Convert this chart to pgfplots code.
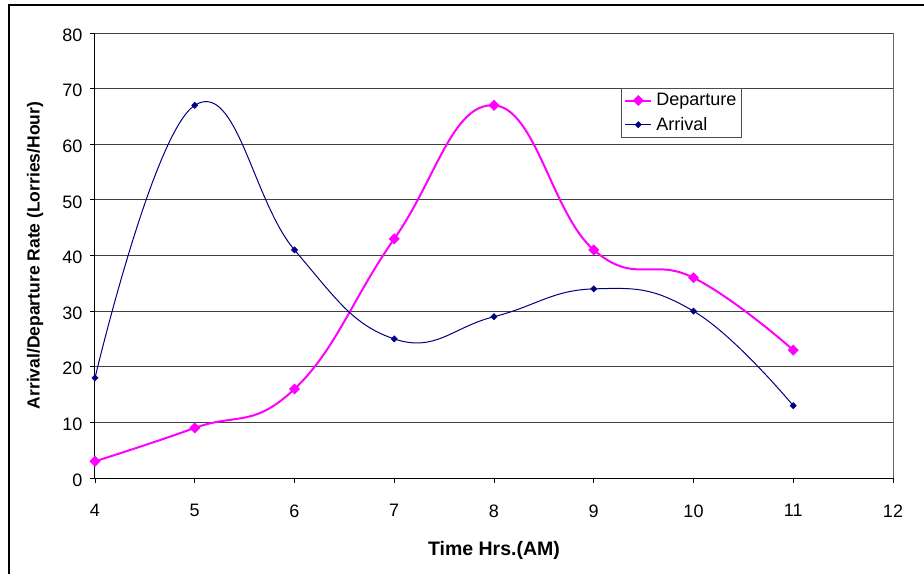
\documentclass[border=0pt]{standalone}
\usepackage{fontspec}
\setmainfont{Liberation Sans}
\usepackage{pgfplots}
\pgfplotsset{compat=1.18}
\definecolor{mag}{RGB}{255,0,255}
\definecolor{nav}{RGB}{0,0,128}
\begin{document}
\begin{tikzpicture}[x=1pt,y=1pt]
\useasboundingbox (-95,-96) rectangle (829,478);
\draw[line width=2pt, black] (-86,-96) -- (-86,473) -- (829,473);
\begin{axis}[at={(0,0)}, anchor=south west, scale only axis,
  width=798pt, height=445pt,
  xmin=4, xmax=12, ymin=0, ymax=80,
  xtick={4,...,12}, ytick={0,10,...,80},
  axis x line*=bottom, axis y line*=left,
  axis line style={-, black, line width=1pt},
  tick align=outside, major tick length=5pt,
  tick style={black, line width=0.8pt},
  ymajorgrids, grid style={black!75, line width=0.8pt},
  /pgf/number format/assume math mode=true,
  tick label style={font=\fontsize{18}{21}\selectfont},
  xticklabel style={yshift=-18pt},
  yticklabel style={xshift=-4pt, yshift=-2pt},
  xlabel={Time Hrs.(AM)},
  ylabel={Arrival/Departure Rate (Lorries/Hour)},
  xlabel style={font=\fontsize{19.5}{22}\selectfont\bfseries,
    at={(axis description cs:0.5,-0.1618)}, anchor=center},
  ylabel style={font=\fontsize{17.5}{21}\selectfont\bfseries,
    at={(axis description cs:-0.0752,0.5)}, anchor=center},
  legend style={at={(0.659,0.876)}, anchor=north west, draw=black!70,
    line width=0.8pt, font=\fontsize{18}{21}\selectfont,
    inner xsep=3pt, inner ysep=3pt, row sep=6pt, column sep=2pt},
  legend image code/.code={\draw[mark repeat=2,mark phase=2]
    plot coordinates {(0pt,0pt) (13pt,0pt) (26pt,0pt)};},
  legend cell align=left,
  clip=false,
]
\draw[black!60, line width=0.8pt] (axis cs:12,0) -- (axis cs:12,80);
\addplot[mag, line width=2pt, smooth, tension=0.75, mark=square*,
  mark size=3.6pt, mark options={rotate=45, solid, line width=0.5pt}]
  coordinates {(4,3) (5,9) (6,16) (7,43) (8,67) (9,41) (10,36) (11,23)};
\addlegendentry{Departure}
\addplot[nav, line width=1pt, smooth, tension=0.75, mark=square*,
  mark size=2.2pt, mark options={rotate=45, solid, line width=0.5pt}]
  coordinates {(4,18) (5,67) (6,41) (7,25) (8,29) (9,34) (10,30) (11,13)};
\addlegendentry{Arrival}
\end{axis}
\end{tikzpicture}
\end{document}
